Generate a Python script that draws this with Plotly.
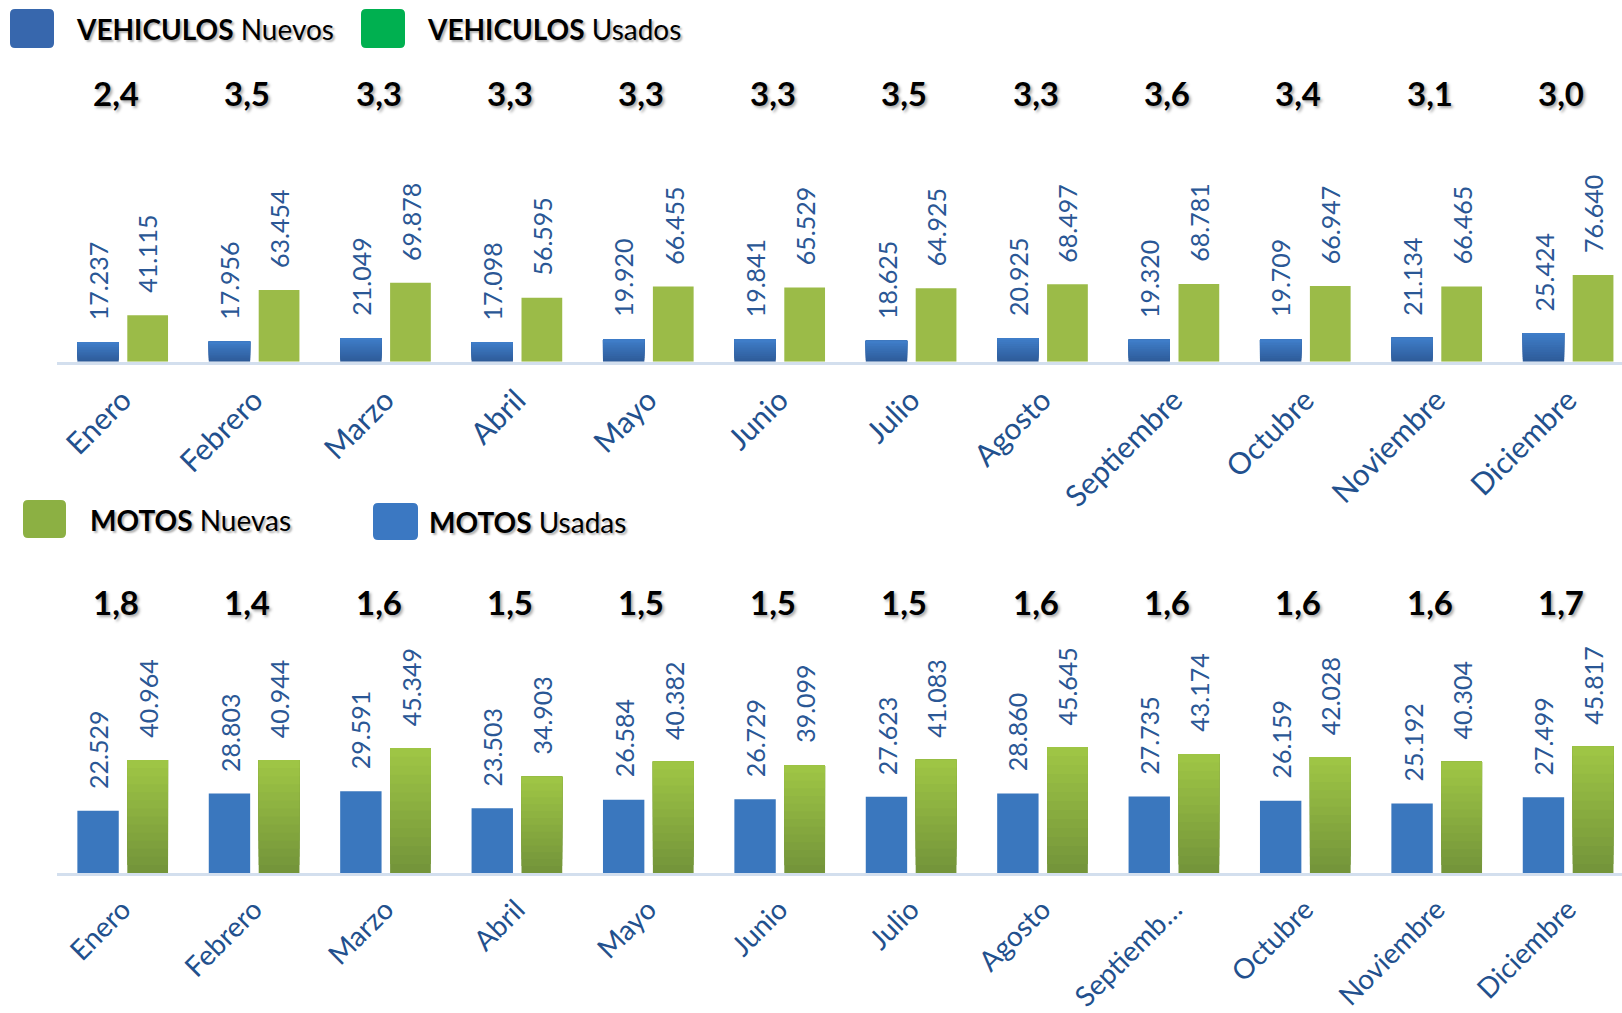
import plotly.graph_objects as go

W, H = 1622, 1013

months = ["Enero", "Febrero", "Marzo", "Abril", "Mayo", "Junio", "Julio",
          "Agosto", "Septiembre", "Octubre", "Noviembre", "Diciembre"]
months_bottom_text = ["Enero", "Febrero", "Marzo", "Abril", "Mayo", "Junio", "Julio",
                      "Agosto", "Septiemb…", "Octubre", "Noviembre", "Diciembre"]

veh_nuevos = [17237, 17956, 21049, 17098, 19920, 19841, 18625, 20925, 19320, 19709, 21134, 25424]
veh_usados = [41115, 63454, 69878, 56595, 66455, 65529, 64925, 68497, 68781, 66947, 66465, 76640]
veh_ratio = ["2,4", "3,5", "3,3", "3,3", "3,3", "3,3", "3,5", "3,3", "3,6", "3,4", "3,1", "3,0"]

motos_usadas = [22529, 28803, 29591, 23503, 26584, 26729, 27623, 28860, 27735, 26159, 25192, 27499]
motos_nuevas = [40964, 40944, 45349, 34903, 40382, 39099, 41083, 45645, 43174, 42028, 40304, 45817]
motos_ratio = ["1,8", "1,4", "1,6", "1,5", "1,5", "1,5", "1,5", "1,6", "1,6", "1,6", "1,6", "1,7"]

FONT = "Lato"
LABEL_COLOR = "#2A5795"
TICK_COLOR = "#22508D"


def px_x(p):
    return p / W


def px_y(p):
    return 1 - p / H


def hex2rgb(h):
    h = h.lstrip("#")
    return tuple(int(h[i:i + 2], 16) for i in (0, 2, 4))


def lerp(c0, c1, t):
    a, b = hex2rgb(c0), hex2rgb(c1)
    return "rgb(%d,%d,%d)" % tuple(round(a[i] + (b[i] - a[i]) * t) for i in range(3))


def fmt(v):
    return f"{v:,}".replace(",", ".")


fig = go.Figure()


def add_bars(values, offset, width, c_bottom, c_top, n, xa, ya):
    # gradient simulated by overlaying bars starting at increasing bases
    for k in range(n):
        t = k / max(n - 1, 1)
        col = lerp(c_bottom, c_top, t) if n > 1 else c_top
        fig.add_trace(go.Bar(
            x=months, y=[v * (1 - k / n) for v in values], base=[v * k / n for v in values],
            offset=offset, width=width, marker=dict(color=col, line=dict(width=0)),
            xaxis=xa, yaxis=ya, showlegend=False, hoverinfo="skip"))
    ref = "y" if ya == "y" else "y2"
    xref = "x" if xa == "x" else "x2"
    for i, v in enumerate(values):
        fig.add_annotation(x=i + offset + width / 2, y=v, xref=xref, yref=ref,
                           text=fmt(v), textangle=-90, showarrow=False,
                           xanchor="center", yanchor="bottom", yshift=20,
                           font=dict(family=FONT, size=25, color=LABEL_COLOR))


B_OFF, B_W = -0.345, 0.315
G_OFF, G_W = 0.035, 0.31

# top chart: vehicles
add_bars(veh_nuevos, B_OFF, B_W, "#2E5C9A", "#3F7DC8", 12, "x", "y")
add_bars(veh_usados, G_OFF, G_W, "#9BBB48", "#9BBB48", 1, "x", "y")
# bottom chart: motos
add_bars(motos_usadas, B_OFF, B_W, "#3A77BE", "#3A77BE", 1, "x2", "y2")
add_bars(motos_nuevas, G_OFF, G_W, "#74953A", "#9EC545", 14, "x2", "y2")

# ratio numbers
for i, r in enumerate(veh_ratio):
    fig.add_annotation(x=i, y=px_y(93), xref="x", yref="paper", text="<b>%s</b>" % r,
                       showarrow=False, xshift=-7, yanchor="middle",
                       font=dict(family=FONT, size=33, color="#000000",
                                 shadow="2px 2px 3px rgba(0,0,0,0.35)"))
for i, r in enumerate(motos_ratio):
    fig.add_annotation(x=i, y=px_y(602), xref="x2", yref="paper", text="<b>%s</b>" % r,
                       showarrow=False, xshift=-7, yanchor="middle",
                       font=dict(family=FONT, size=33, color="#000000",
                                 shadow="2px 2px 3px rgba(0,0,0,0.35)"))


def rrect(x0, y0, x1, y1, r):
    X = px_x
    Y = px_y
    return (f"M {X(x0 + r)} {Y(y0)} L {X(x1 - r)} {Y(y0)} Q {X(x1)} {Y(y0)} {X(x1)} {Y(y0 + r)} "
            f"L {X(x1)} {Y(y1 - r)} Q {X(x1)} {Y(y1)} {X(x1 - r)} {Y(y1)} "
            f"L {X(x0 + r)} {Y(y1)} Q {X(x0)} {Y(y1)} {X(x0)} {Y(y1 - r)} "
            f"L {X(x0)} {Y(y0 + r)} Q {X(x0)} {Y(y0)} {X(x0 + r)} {Y(y0)} Z")


legend_items = [
    (10, 9, 54, 48, "#3767AD", 74, 29, "VEHICULOS", "Nuevos"),
    (361, 9, 405, 48, "#00B050", 425, 29, "VEHICULOS", "Usados"),
    (23, 500, 66, 538, "#8CB043", 88, 520, "MOTOS", "Nuevas"),
    (373, 503, 418, 540, "#3B78C2", 427, 522, "MOTOS", "Usadas"),
]
for x0, y0, x1, y1, col, tx, ty, bold, reg in legend_items:
    fig.add_shape(type="path", path=rrect(x0, y0, x1, y1, 5), xref="paper", yref="paper",
                  fillcolor=col, line=dict(width=0))
    fig.add_annotation(x=px_x(tx), y=px_y(ty), xref="paper", yref="paper",
                       text=f"<b>{bold}</b> {reg}", showarrow=False,
                       xanchor="left", yanchor="middle",
                       font=dict(family=FONT, size=28, color="#000000",
                                 shadow="2px 2px 2px rgba(0,0,0,0.3)"))

xdom = [px_x(57), 1.0]
xrange_ = [-0.5, -0.5 + (W - 57) / 131.4]
axis_common = dict(type="category", categoryorder="array", categoryarray=months,
                   range=xrange_, domain=xdom, showline=True, linecolor="#D3DFEE",
                   linewidth=3, showgrid=False, zeroline=False, ticks="",
                   tickangle=-45, ticklabelstandoff=6, automargin=False, fixedrange=True)

top_y0, top_y1 = px_y(361.7), px_y(120)
bot_y0, bot_y1 = px_y(873), px_y(620)
top_scale = 86.7 / 76640
bot_scale = 113.0 / 40964

fig.update_layout(
    width=W, height=H, margin=dict(l=0, r=0, t=0, b=0, autoexpand=False),
    paper_bgcolor="white", plot_bgcolor="white", barmode="overlay",
    showlegend=False,
    xaxis=dict(**axis_common, anchor="y",
               tickfont=dict(family=FONT, size=30, color=TICK_COLOR)),
    yaxis=dict(domain=[top_y0, top_y1], range=[0, (top_y1 - top_y0) * H / top_scale],
               visible=False, fixedrange=True, automargin=False),
    xaxis2=dict(**axis_common, anchor="y2", tickmode="array", tickvals=months,
                ticktext=months_bottom_text,
                tickfont=dict(family=FONT, size=28, color=TICK_COLOR)),
    yaxis2=dict(domain=[bot_y0, bot_y1], range=[0, (bot_y1 - bot_y0) * H / bot_scale],
                visible=False, fixedrange=True, automargin=False),
)

fig.write_html("out.html", config={"displayModeBar": False},
               post_script="document.body.style.margin='0';document.body.style.overflow='hidden';")
